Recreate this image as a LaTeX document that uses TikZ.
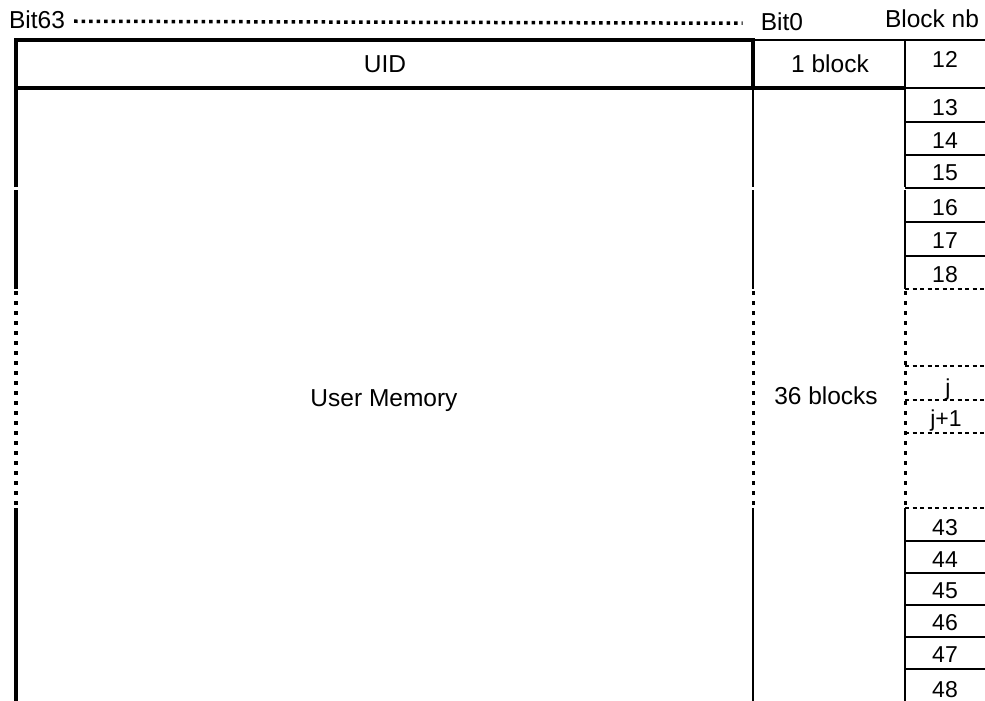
\documentclass[tikz,border=0pt]{standalone}
\usepackage{fontspec}
\setmainfont{Liberation Sans}
\begin{document}
\begin{tikzpicture}[x=1pt,y=-1pt,
    label node/.style={inner sep=0pt,anchor=base,font=\fontsize{24.5}{28}\selectfont},
    nb node/.style={inner sep=0pt,anchor=base,font=\fontsize{23}{27}\selectfont},
    heavy/.style={line width=3.8pt},
    light/.style={line width=1.3pt},
    dotrule/.style={line width=3.5pt,dash pattern=on 3.5pt off 4pt},
    dotcol/.style={dash pattern=on 4pt off 6pt},
    dashrow/.style={line width=1.8pt,dash pattern=on 4pt off 3.5pt}]
        \useasboundingbox (0,0) rectangle (985,701);

        % header
        \node[label node] at (37,29) (bit63) {Bit63};
        \node[label node] at (782,31) (bit0) {Bit0};
        \node[label node] at (932,28) (blocknb) {Block nb};
        \draw[dotrule] ([xshift=9pt,yshift=-1pt]bit63.east) -- ([xshift=-18pt,yshift=-1pt]bit0.west);

        % texts
        \node[label node] at (385,73) (uid) {UID};
        \node[label node] at (830,73) (oneblock) {1 block};
        \node[label node] at (384,406) (usermem) {User Memory};
        \node[label node] at (826,404) (blocks) {36 blocks};

        % block numbers
        \node[nb node] at (945,67) (n12) {12};
        \node[nb node] at (945,115) (n13) {13};
        \node[nb node] at (945,148) (n14) {14};
        \node[nb node] at (945,180) (n15) {15};
        \node[nb node] at (945,215) (n16) {16};
        \node[nb node] at (945,248) (n17) {17};
        \node[nb node] at (945,282) (n18) {18};
        \node[nb node] at (948,395) (nj) {j};
        \node[nb node] at (946,426) (nj1) {j+1};
        \node[nb node] at (945,535) (n43) {43};
        \node[nb node] at (945,567) (n44) {44};
        \node[nb node] at (945,598) (n45) {45};
        \node[nb node] at (945,630) (n46) {46};
        \node[nb node] at (945,662) (n47) {47};
        \node[nb node] at (945,697) (n48) {48};

        % UID row
        \draw[heavy] (16,187) -- (16,40) -- (753,40) -- (753,88);
        \draw[heavy] (14,88) -- (905,88);
        \draw[light] (753,40) -- (985,40);
        \draw[light] (905,40) -- (905,187) (905,190) -- (905,289);

        % user memory frame
        \draw[heavy] (16,190) -- (16,289) (16,508) -- (16,701);
        \draw[light] (753,88) -- (753,187) (753,190) -- (753,289) (753,508) -- (753,701);
        \draw[light] (905,508) -- (905,701);
        \draw[dotcol,line width=4pt] (16,291) -- (16,508);
        \draw[dotcol,line width=3pt] (753,291) -- (753,508);
        \draw[dotcol,line width=3pt] (905,291) -- (905,508);

        % block rows
        \draw[light] (905,88) -- (985,88) (905,122) -- (985,122) (905,155) -- (985,155)
            (905,188) -- (985,188) (905,222) -- (985,222) (905,256) -- (985,256);
        \draw[dashrow] (905,289) -- (985,289) (905,366) -- (985,366) (905,400) -- (985,400)
            (905,433) -- (985,433) (905,508) -- (985,508);
        \draw[light] (905,541) -- (985,541) (905,573) -- (985,573) (905,605) -- (985,605)
            (905,637) -- (985,637) (905,669) -- (985,669);
\end{tikzpicture}
\end{document}
